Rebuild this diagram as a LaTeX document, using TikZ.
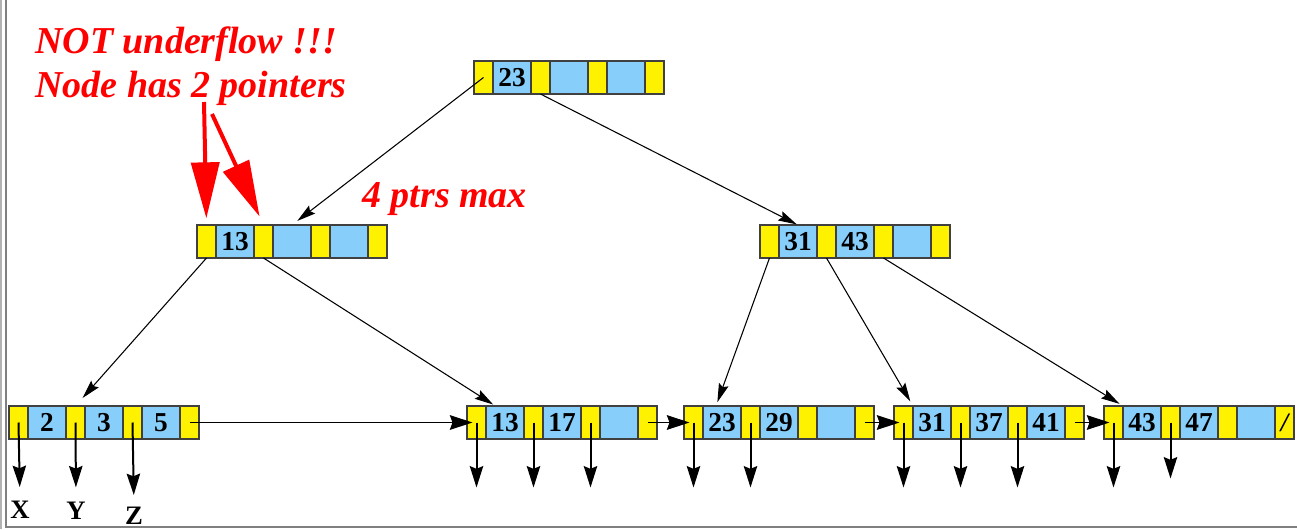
\documentclass[tikz,border=0pt]{standalone}
\usepackage{fontspec}
\setmainfont{Liberation Serif}
\newfontfamily\warnfont{Liberation Serif}[BoldItalicFont={Liberation Serif Bold Italic}, BoldFont={Liberation Serif Bold}]
\usetikzlibrary{positioning,arrows.meta}

\definecolor{keyblue}{RGB}{135,206,250}

\tikzset{
  ptrcell/.style={draw=black!75, line width=0.8pt, fill=yellow, minimum width=14.25pt, minimum height=24.75pt, inner sep=0pt, outer sep=0pt},
  keycell/.style={ptrcell, fill=keyblue, minimum width=28.5pt, font=\warnfont\bfseries\fontsize{20.5}{20.5}\selectfont},
  treeptr/.style={line width=0.8pt, -{Stealth[length=14pt,width=7.5pt,inset=2pt]}},
  sibptr/.style={line width=0.8pt, -{Stealth[length=17pt,width=11pt,inset=2pt]}},
  leafptr/.style={line width=1.5pt, -{Stealth[length=16pt,width=10pt,inset=2pt]}},
  warntext/.style={text=red, font=\warnfont\bfseries\itshape\fontsize{28.5}{30}\selectfont, inner sep=0pt},
  warnarrow/.style={draw=red, line width=3pt, -{Triangle[length=42pt,width=21pt]}},
  leaflabel/.style={font=\warnfont\bfseries\fontsize{20}{20}\selectfont, inner sep=0pt}
}

% one B+ tree node: 4 pointer cells and 3 key cells
\newcommand{\bpnode}[6]{%
  \node[ptrcell, anchor=west] (#1-p1) at (#2,#3) {};
  \node[keycell, right=0pt of #1-p1] (#1-k1) {#4};
  \node[ptrcell, right=0pt of #1-k1] (#1-p2) {};
  \node[keycell, right=0pt of #1-p2] (#1-k2) {#5};
  \node[ptrcell, right=0pt of #1-k2] (#1-p3) {};
  \node[keycell, right=0pt of #1-p3] (#1-k3) {#6};
  \node[ptrcell, right=0pt of #1-k3] (#1-p4) {};
}

\begin{document}
\begin{tikzpicture}[x=0.75pt,y=0.75pt,yscale=-1,xscale=1]
        \useasboundingbox (0,0) rectangle (1297,529);
        % frame
        \fill[gray!60] (0,0) rectangle (2,529);
        \draw[gray, line width=1pt] (6,0) -- (6,527) -- (1297,527);

        % Tree nodes
        \bpnode{root}{474}{77.5}{23}{}{}
        \bpnode{li}{197}{241.5}{13}{}{}
        \bpnode{ri}{760}{241.5}{31}{43}{}
        \bpnode{lf1}{9}{422.5}{2}{3}{5}
        \bpnode{lf2}{467}{422.5}{13}{17}{}
        \bpnode{lf3}{684}{422.5}{23}{29}{}
        \bpnode{lf4}{894}{422.5}{31}{37}{41}
        \bpnode{lf5}{1104}{422.5}{43}{47}{}
        \node[font=\warnfont\bfseries\itshape\fontsize{20}{20}\selectfont, inner sep=0pt] (nilptr) at (lf5-p4.center) {/};

        % Text Node
        \node[warntext, anchor=base west] (note1) at (35,53) {NOT underflow !!!};
        \node[warntext, anchor=base west] (note2) at (35,97) {Node has 2 pointers};
        \node[warntext, anchor=base west] (maxnote) at (362,207) {4 ptrs max};
        \node[leaflabel, anchor=north] (lblX) at (20,501) {X};
        \node[leaflabel, anchor=north] (lblY) at (76,502) {Y};
        \node[leaflabel, anchor=north] (lblZ) at (134,507) {Z};

        %Straight Lines: inner pointers
        \draw[treeptr, shorten >=5pt] (root-p1.center) -- (li-k2.north);
        \draw[treeptr, shorten >=1pt] (root-p2.south) -- (ri-k1.north);
        \draw[treeptr, shorten >=8pt] (li-p1.south) -- (lf1-p2.north);
        \draw[treeptr, shorten >=2pt] (li-p2.south) -- (lf2-k1.120);
        \draw[treeptr, shorten >=3pt] (ri-p1.south) -- (lf3-k1.110);
        \draw[treeptr, shorten >=4pt] (ri-p2.south) -- (lf4-p1.north east);
        \draw[treeptr, shorten >=3pt] (ri-p3.south) -- (lf5-p1.north east);

        %Straight Lines: leaf chain
        \foreach \a/\b in {lf1/lf2, lf2/lf3, lf3/lf4, lf4/lf5}
          \draw[sibptr, shorten >=3pt] (\a-p4.center) -- (\b-p1.center);

        %Straight Lines: record pointers
        \draw[leafptr, shorten >=10.5pt] (lf1-p1.center) -- (lblX.north);
        \draw[leafptr, shorten >=11pt] (lf1-p2.center) -- (lblY.north);
        \draw[leafptr, shorten >=9pt] (lf1-p3.center) -- (lblZ.north);
        \foreach \i in {1,2,3} {
          \draw[leafptr] (lf2-p\i.center) -- ++(0,65);
          \draw[leafptr] (lf4-p\i.center) -- ++(0,65);
        }
        \foreach \i in {1,2}
          \draw[leafptr] (lf3-p\i.center) -- ++(0,65);
        \draw[leafptr] (lf5-p1.center) -- ++(0,65);
        \draw[leafptr] (lf5-p2.center) -- ++(0,56);

        %Straight Lines: red marks
        \coordinate (warnA) at (204,102);
        \coordinate (warnB) at (212,114);
        \draw[warnarrow, shorten >=5pt] (warnA) -- (li-p1.north);
        \draw[warnarrow, shorten >=7pt] (warnB) -- (li-p2.north);
    \end{tikzpicture}
\end{document}
